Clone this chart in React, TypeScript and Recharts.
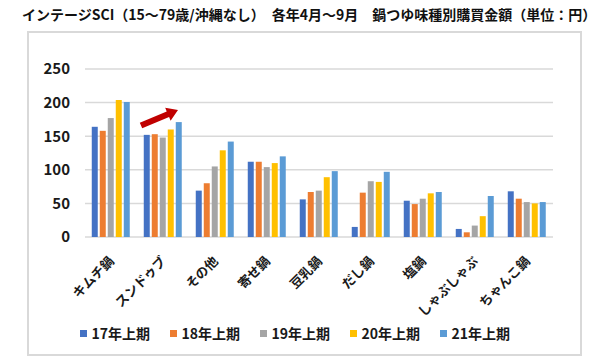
import React from "react";
import { BarChart, Bar, XAxis, YAxis, CartesianGrid, Legend } from "recharts";

const categories = ["キムチ鍋", "スンドゥブ", "その他", "寄せ鍋", "豆乳鍋", "だし鍋", "塩鍋", "しゃぶしゃぶ", "ちゃんこ鍋"];
const seriesNames = ["17年上期", "18年上期", "19年上期", "20年上期", "21年上期"];
const s17 = [164, 152, 69, 112, 56, 15, 54, 12, 68];
const s18 = [158, 153, 80, 112, 67, 66, 49, 7, 57];
const s19 = [177, 148, 105, 104, 69, 83, 57, 17, 52];
const s20 = [204, 160, 129, 110, 89, 82, 65, 31, 50];
const s21 = [201, 171, 142, 120, 98, 97, 67, 61, 52];
const yTicks = [0, 50, 100, 150, 200, 250];
const colors = ["#4472C4", "#ED7D31", "#A5A5A5", "#FFC000", "#5B9BD5"];
const title = "インテージSCI（15～79歳/沖縄なし）　各年4月～9月　鍋つゆ味種別購買金額（単位：円）";

const seriesValues = [s17, s18, s19, s20, s21];
const data = categories.map((c, i) => {
  const row: any = { name: c };
  seriesNames.forEach((s, k) => (row[s] = seriesValues[k][i]));
  return row;
});

const FONT = '"Noto Sans CJK JP", "Noto Sans", sans-serif';

const XTick = (props: any) => {
  const { x, payload } = props;
  const ax = x + 4;
  const ay = 262;
  return (
    <text
      x={ax}
      y={ay}
      transform={`rotate(-45, ${ax}, ${ay})`}
      textAnchor="end"
      fontSize={13}
      fontWeight="bold"
      fontFamily={FONT}
      fill="#1a1a1a"
    >
      {payload.value}
    </text>
  );
};

const LegendContent = (props: any) => {
  const { payload } = props;
  return (
    <div style={{ display: "flex", justifyContent: "center", fontFamily: FONT }}>
      {payload.map((p: any) => (
        <div key={p.value} style={{ display: "flex", alignItems: "center", width: 90 }}>
          <span style={{ display: "inline-block", width: 7, height: 7, background: p.color, marginRight: 5 }} />
          <span style={{ fontSize: 14, fontWeight: "bold", color: "#1a1a1a", whiteSpace: "nowrap" }}>{p.value}</span>
        </div>
      ))}
    </div>
  );
};

export default function App() {
  return (
    <div style={{ position: "absolute", left: 0, top: 0, width: 609, height: 356, background: "#fff", overflow: "hidden" }}>
      <div
        style={{
          position: "absolute",
          left: 27,
          top: 31,
          width: 551,
          height: 321,
          border: "2px solid #D9D9D9",
        }}
      />
      <div
        style={{
          position: "absolute",
          left: 22,
          top: 3,
          fontFamily: FONT,
          fontSize: 14,
          fontWeight: "bold",
          color: "#111",
          whiteSpace: "nowrap",
          lineHeight: "22px",
        }}
      >
        {title}
      </div>
      <div style={{ position: "absolute", left: 0, top: 0 }}>
        <BarChart
          width={609}
          height={356}
          data={data}
          margin={{ top: 69, right: 56, left: 0, bottom: 39 }}
          barCategoryGap="13%"
          barGap={2}
        >
          <CartesianGrid vertical={false} stroke="#D9D9D9" strokeWidth={1.5} />
          <XAxis
            dataKey="name"
            axisLine={false}
            tickLine={false}
            interval={0}
            tick={<XTick />}
            height={80}
          />
          <YAxis
            width={85}
            domain={[0, 250]}
            ticks={yTicks}
            axisLine={false}
            tickLine={false}
            tickSize={6}
            tickMargin={9}
            tick={{ fontSize: 15, fontWeight: "bold", fill: "#1a1a1a", fontFamily: FONT }}
          />
          <Legend
            verticalAlign="middle"
            align="center"
            layout="horizontal"
            wrapperStyle={{ top: 323, left: 0, width: 609 }}
            content={<LegendContent />}
          />
          {seriesNames.map((s, k) => (
            <Bar key={s} dataKey={s} fill={colors[k]} isAnimationActive={false} />
          ))}
        </BarChart>
      </div>
      <svg
        width={609}
        height={356}
        style={{ position: "absolute", left: 0, top: 0, pointerEvents: "none" }}
      >
        <polygon
          points="139.8,122.7 166.7,111.4 165.2,107.7 178,110 170.6,120.7 169.1,117.0 142.2,128.3"
          fill="#C00000"
        />
      </svg>
    </div>
  );
}
